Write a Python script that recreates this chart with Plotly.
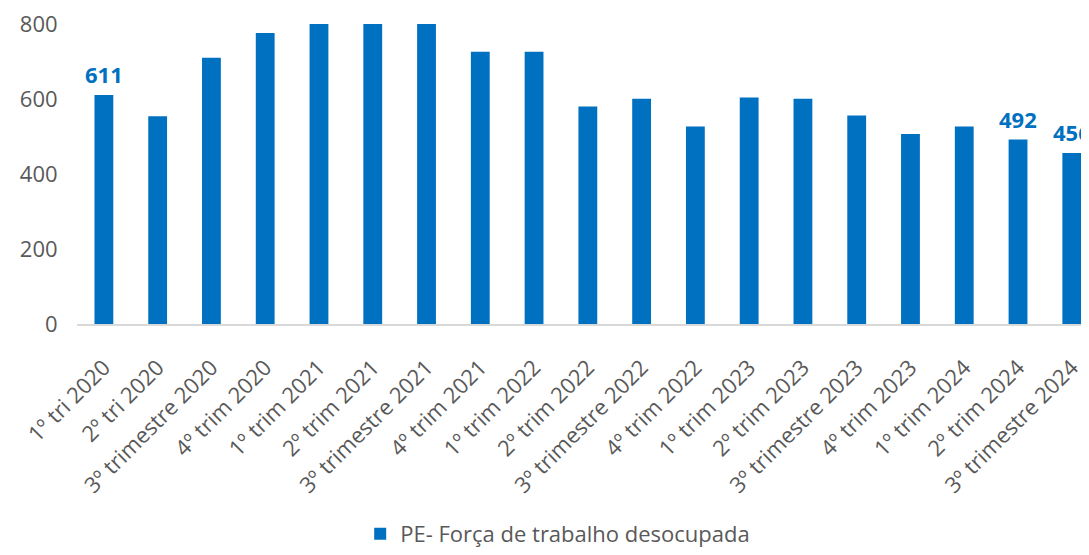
import plotly.graph_objects as go

categories = ["1º tri 2020", "2º tri 2020", "3º trimestre 2020", "4º trim 2020",
              "1º trim 2021", "2º trim 2021", "3º trimestre 2021", "4º trim 2021",
              "1º trim 2022", "2º trim 2022", "3º trimestre 2022", "4º trim 2022",
              "1º trim 2023", "2º trim 2023", "3º trimestre 2023", "4º trim 2023",
              "1º trim 2024", "2º trim 2024", "3º trimestre 2024"]
values = [611, 554, 710, 776, 800, 800, 800, 726, 726, 580, 601, 527,
          604, 601, 556, 507, 527, 492, 456]
labeled_idx = [0, 17, 18]
series_name = "PE- Força de trabalho desocupada"

BLUE = "#0070C0"
GREY = "#595959"
FONT = "Open Sans"

fig = go.Figure()
fig.add_trace(go.Bar(x=categories, y=values, name=series_name,
                     marker=dict(color=BLUE, line=dict(width=0)),
                     width=0.35))

for i in labeled_idx:
    fig.add_annotation(x=categories[i], y=values[i], text=f"<b>{values[i]}</b>",
                       showarrow=False, yanchor="bottom", yshift=4,
                       font=dict(family=FONT, size=22, color=BLUE))

fig.update_layout(
    width=1081, height=547,
    margin=dict(l=69, r=0, t=14, b=231),
    paper_bgcolor="white", plot_bgcolor="white",
    font=dict(family=FONT, size=22, color=GREY),
    showlegend=True,
    legend=dict(orientation="h", x=0.475, xanchor="center", y=-0.70, yanchor="middle",
                font=dict(family=FONT, size=22, color=GREY), itemwidth=30),
    bargap=0.65,
)
fig.update_xaxes(type="category", range=[-0.5, 18.32], tickangle=-45,
                 showline=True, linecolor="#D9D9D9", linewidth=2,
                 ticks="outside", ticklen=20, tickcolor="rgba(0,0,0,0)",
                 tickfont=dict(family=FONT, size=22, color=GREY),
                 showgrid=False)
fig.update_yaxes(range=[0, 800], tickvals=[0, 200, 400, 600, 800],
                 showgrid=False, zeroline=False, showline=False,
                 ticks="outside", ticklen=14, tickcolor="rgba(0,0,0,0)",
                 ticklabeloverflow="allow",
                 tickfont=dict(family=FONT, size=22, color=GREY))

fig.write_html("out.html")
